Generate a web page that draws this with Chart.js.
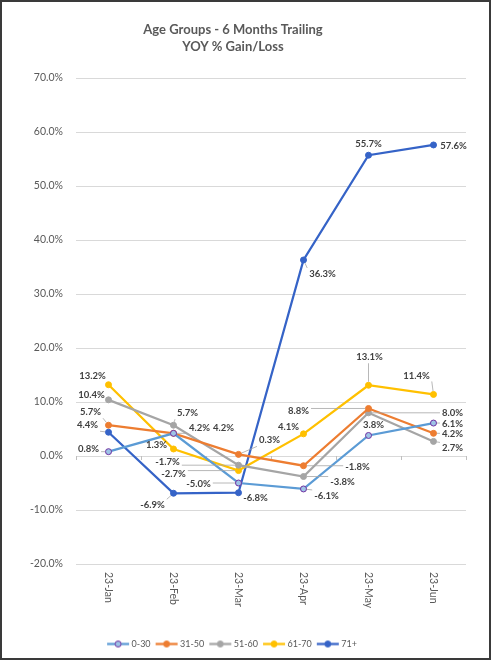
<!DOCTYPE html>
<html><head><meta charset="utf-8">
<script src="https://cdn.jsdelivr.net/npm/chart.js@4/dist/chart.umd.min.js"></script>
<style>html,body{margin:0;padding:0;background:#fff}#wrap{width:491px;height:660px;position:relative}</style>
</head><body><div id="wrap"><canvas id="c" width="491" height="660"></canvas></div>
<script>
// ---- data ----
const categories = ['23-Jan','23-Feb','23-Mar','23-Apr','23-May','23-Jun'];
const seriesNames = ['0-30','31-50','51-60','61-70','71+'];
const age0to30  = [0.8, 4.2, -5.0, -6.1, 3.8, 6.1];
const age31to50 = [5.7, 4.2, 0.3, -1.8, 8.8, 4.2];
const age51to60 = [10.4, 5.7, -1.7, -3.8, 8.0, 2.7];
const age61to70 = [13.2, 1.3, -2.7, 4.1, 13.1, 11.4];
const age71plus = [4.4, -6.9, -6.8, 36.3, 55.7, 57.6];
const yMin = -20, yMax = 70, yStep = 10;

// ---- styles ----
const lineColors  = ['#5B9BD5','#ED7D31','#A5A5A5','#FFC000','#3563C7'];
const pointFills  = ['#9DC3E6','#ED7D31','#A5A5A5','#FFC000','#3563C7'];
const pointBorders= ['#7030A0','#ED7D31','#A5A5A5','#FFC000','#3563C7'];
// label offsets [dx, dy, leader] relative to each point
const labelOffsets = [
  [[-20,-3,1],[26,-5,1],[-40,1,1],[23,7,1],[5,-11,0],[19,1,1]],
  [[-18,-13,1],[50,-5,0],[31,-14,1],[54,1,1],[-70,2,1],[19,1,1]],
  [[-17,-5,0],[14,-12,1],[-71,-3,1],[39,5,1],[84,0,1],[19,7,1]],
  [[-16,-9,0],[-17,-4,0],[-65,3,1],[-15,-7,0],[1,-28,1],[-17,-19,1]],
  [[-21,-7,1],[-21,12,1],[17,5,0],[19,14,1],[0,-11,1],[20,1,0]]
];
const seriesData = [age0to30, age31to50, age51to60, age61to70, age71plus];

function makeIcon(i){
  const c = document.createElement('canvas'); c.width = 24; c.height = 9;
  const g = c.getContext('2d');
  g.strokeStyle = lineColors[i]; g.lineWidth = 2.25;
  g.beginPath(); g.moveTo(1,4.5); g.lineTo(23,4.5); g.stroke();
  g.beginPath(); g.arc(12,4.5,3,0,Math.PI*2);
  g.fillStyle = pointFills[i]; g.fill();
  g.lineWidth = 1; g.strokeStyle = pointBorders[i]; g.stroke();
  return c;
}

const extras = {
  id: 'extras',
  beforeDatasetsDraw(chart){
    const ctx = chart.ctx, xs = chart.scales.x, ys = chart.scales.y;
    const y0 = ys.getPixelForValue(0), n = categories.length;
    ctx.save(); ctx.strokeStyle = '#bfbfbf'; ctx.lineWidth = 1;
    for(let i=0;i<=n;i++){
      const x = Math.round(xs.left + i*xs.width/n) + 0.5;
      ctx.beginPath(); ctx.moveTo(x, y0); ctx.lineTo(x, y0+4); ctx.stroke();
    }
    ctx.restore();
  },
  afterDatasetsDraw(chart){
    const ctx = chart.ctx;
    ctx.save();
    ctx.font = 'bold 9.5px Lato';
    ctx.textAlign = 'center'; ctx.textBaseline = 'middle';
    seriesData.forEach((arr, i) => {
      const meta = chart.getDatasetMeta(i);
      arr.forEach((v, j) => {
        const p = meta.data[j];
        const [dx, dy, leader] = labelOffsets[i][j];
        const lx = p.x + dx, ly = p.y + dy;
        const txt = v.toFixed(1) + '%';
        const w = ctx.measureText(txt).width;
        if (leader){
          const hw = w/2 + 2, hh = 6;
          const bx = Math.max(lx-hw, Math.min(p.x, lx+hw));
          const by = Math.max(ly-hh, Math.min(p.y, ly+hh));
          const ddx = p.x - bx, ddy = p.y - by, len = Math.hypot(ddx, ddy);
          if (len > 5){
            const ex = p.x - ddx/len*3.5, ey = p.y - ddy/len*3.5;
            ctx.strokeStyle = '#a6a6a6'; ctx.lineWidth = 0.8;
            ctx.beginPath(); ctx.moveTo(bx, by); ctx.lineTo(ex, ey); ctx.stroke();
          }
        }
        ctx.fillStyle = '#404040';
        ctx.fillText(txt, lx, ly);
      });
    });
    ctx.restore();
  },
  afterDraw(chart){
    const ctx = chart.ctx, xs = chart.scales.x, ys = chart.scales.y;
    ctx.save();
    ctx.font = '10.5px Lato'; ctx.fillStyle = '#595959';
    ctx.textAlign = 'left'; ctx.textBaseline = 'middle';
    categories.forEach((c, i) => {
      const x = xs.getPixelForValue(i);
      ctx.save(); ctx.translate(x, ys.bottom + 8); ctx.rotate(Math.PI/2);
      ctx.fillText(c, 0, 0); ctx.restore();
    });
    ctx.strokeStyle = '#3a3a3a'; ctx.lineWidth = 2;
    ctx.strokeRect(1, 1, chart.width-2, chart.height-2);
    ctx.restore();
  }
};

function build(){
  const icons = seriesNames.map((_, i) => makeIcon(i));
  new Chart(document.getElementById('c'), {
    type: 'line',
    data: {
      labels: categories,
      datasets: seriesNames.map((name, i) => ({
        label: name,
        data: seriesData[i],
        borderColor: lineColors[i],
        backgroundColor: pointFills[i],
        borderWidth: 2.25,
        pointRadius: 3,
        pointBorderWidth: 1,
        pointBackgroundColor: pointFills[i],
        pointBorderColor: pointBorders[i],
        tension: 0,
        fill: false
      }))
    },
    options: {
      responsive: false,
      animation: false,
      layout: { padding: { left: 0, right: 25, top: 0, bottom: 1.5 } },
      plugins: {
        title: {
          display: true,
          text: ['Age Groups - 6 Months Trailing', 'YOY % Gain/Loss'],
          color: '#595959',
          font: { family: 'Lato', size: 13, weight: 'bold', lineHeight: 1.3 },
          padding: { top: 21.5, bottom: 22.7 }
        },
        legend: {
          position: 'bottom',
          labels: {
            usePointStyle: true,
            pointStyleWidth: 18,
            padding: 7,
            color: '#595959',
            font: { family: 'Lato', size: 9 },
            generateLabels(chart){
              const items = Chart.defaults.plugins.legend.labels.generateLabels(chart);
              items.forEach((it, i) => { it.pointStyle = icons[i]; });
              return items;
            }
          }
        },
        tooltip: { enabled: false }
      },
      scales: {
        x: {
          offset: true,
          grid: { display: false, offset: true }, border: { display: false },
          ticks: { display: false },
          afterFit(s){ s.height = 68.5; }
        },
        y: {
          min: yMin, max: yMax,
          ticks: { stepSize: yStep, padding: 13, color: '#595959',
                   font: { family: 'Lato', size: 10.5 },
                   callback: v => Number(v).toFixed(1) + '%' },
          grid: { color: '#d9d9d9', drawTicks: false, lineWidth: 1 },
          border: { display: false },
          afterFit(s){ s.width = 76; }
        }
      }
    },
    plugins: [extras]
  });
}
Promise.all([
  document.fonts.load('bold 13px Lato'),
  document.fonts.load('10px Lato')
]).then(build, build);
</script>
</body></html>
